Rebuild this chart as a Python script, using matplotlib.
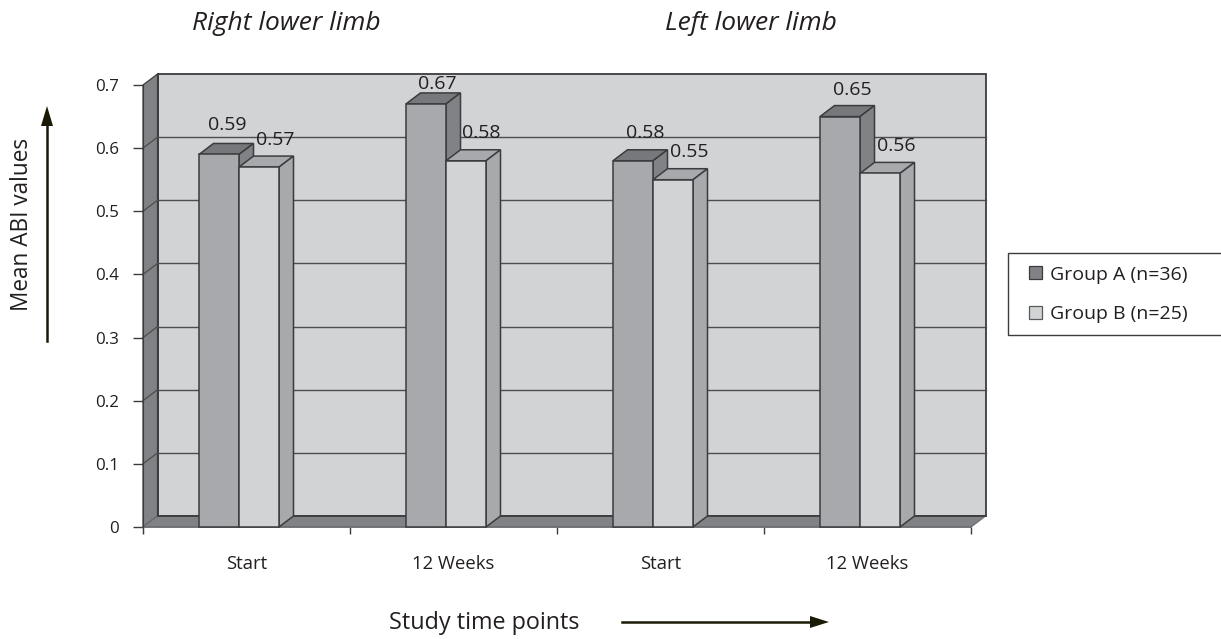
import numpy as np
import matplotlib
matplotlib.use("Agg")
import matplotlib.pyplot as plt
from matplotlib.patches import Polygon, Rectangle
from matplotlib.lines import Line2D
from matplotlib.ticker import FuncFormatter

# ---- data ----
categories = ["Start", "12 Weeks", "Start", "12 Weeks"]
group_a = [0.59, 0.67, 0.58, 0.65]
group_b = [0.57, 0.58, 0.55, 0.56]
y_ticks = [0, 0.1, 0.2, 0.3, 0.4, 0.5, 0.6, 0.7]
series_names = ["Group A (n=36)", "Group B (n=25)"]

# ---- layout ----
W, H = 1221, 639
X0, X1, Y0, Y7 = 143, 971, 527, 85
DX_PX, DY_PX = 14.5, 11
BAR_PX, BAR_START_PX = 40, 56

C_WALL = "#d1d3d4"; C_SIDE = "#808285"; C_EDGE = "#3c3c3e"
C_A = "#a7a9ac"; C_A_TOP = "#77787b"; C_A_SIDE = "#808285"
C_B = "#d1d3d4"; C_B_TOP = "#a7a9ac"; C_B_SIDE = "#a7a9ac"

plt.rcParams["font.family"] = ["Open Sans", "DejaVu Sans"]
FS = 13.3
FS_Y = 12.2
FS_VAL = 14
FS_LEG = 14
TXT = "#231f20"

fig = plt.figure(figsize=(W / 100, H / 100), dpi=100)
ax = fig.add_axes([X0 / W, 1 - Y0 / H, (X1 - X0) / W, (Y0 - Y7) / H])
ax.set_xlim(0, len(categories))
ax.set_ylim(0, 0.7)
ax.patch.set_visible(False)

ux = (X1 - X0) / len(categories)
uy = (Y0 - Y7) / 0.7
dx, dy = DX_PX / ux, DY_PX / uy
bw = BAR_PX / ux
xmax = len(categories)
ymax = 0.7


def poly(pts, fc, z, ec=C_EDGE, lw=1.1):
    ax.add_patch(Polygon(pts, closed=True, facecolor=fc, edgecolor=ec,
                         linewidth=lw, zorder=z, clip_on=False, joinstyle="miter"))


# walls
poly([(dx, dy), (xmax + dx, dy), (xmax + dx, ymax + dy), (dx, ymax + dy)], C_WALL, 1, lw=1.3)
poly([(0, 0), (0, ymax), (dx, ymax + dy), (dx, dy)], C_SIDE, 1.1, lw=0.9)
poly([(0, 0), (xmax, 0), (xmax + dx, dy), (dx, dy)], C_SIDE, 1.1, ec="#6d6e71", lw=0.9)
ax.plot([dx, xmax + dx], [dy, dy], color=C_EDGE, lw=1.3, zorder=1.2, clip_on=False)
ax.plot([dx, dx], [dy, ymax + dy], color=C_EDGE, lw=1.3, zorder=1.2, clip_on=False)

# gridlines on back wall, with their return on the left wall
for t in y_ticks[1:-1]:
    ax.plot([dx, xmax + dx], [t + dy, t + dy], color="#4d4d4f", lw=1.0, zorder=1.3, clip_on=False)
    ax.plot([0, dx], [t, t + dy], color="#4d4d4f", lw=0.9, zorder=1.3, clip_on=False)

# bars
x_idx = np.arange(len(categories))
left_a = x_idx + BAR_START_PX / ux
left_b = left_a + bw


def bars3d(lefts, vals, front, top, side, z):
    for l, v in zip(lefts, vals):
        poly([(l, v), (l + bw, v), (l + bw + dx, v + dy), (l + dx, v + dy)], top, z)
        poly([(l + bw, 0), (l + bw + dx, dy), (l + bw + dx, v + dy), (l + bw, v)], side, z)
    return ax.bar(lefts, vals, width=bw, align="edge", color=front, edgecolor=C_EDGE,
                  linewidth=1.1, zorder=z + 0.1, clip_on=False)


for i in range(len(categories)):
    bars3d([left_a[i]], [group_a[i]], C_A, C_A_TOP, C_A_SIDE, 3 + i)
    bars3d([left_b[i]], [group_b[i]], C_B, C_B_TOP, C_B_SIDE, 3.4 + i)

# value labels
lab_a_dx = [8, 11, 12, 12]
lab_a_dy = [29, 20, 28, 27]
lab_b_dx = [16, 15, 16, 16]
lab_b_dy = [27, 28, 28, 27]
for lefts, vals, ldx, ldy in ((left_a, group_a, lab_a_dx, lab_a_dy),
                              (left_b, group_b, lab_b_dx, lab_b_dy)):
    for l, v, ox, oy in zip(lefts, vals, ldx, ldy):
        ax.annotate(f"{v:.2f}", (l + bw / 2, v), xytext=(ox * .72, oy * .72),
                    textcoords="offset points", ha="center", va="center",
                    fontsize=FS_VAL, color=TXT, zorder=20, annotation_clip=False)

# axes, ticks
for s in ("top", "right"):
    ax.spines[s].set_visible(False)
ax.spines["bottom"].set_visible(False)
ax.spines["left"].set_bounds(-6 / uy, 0.7)
ax.spines["left"].set_position(("data", 0))
ax.spines["left"].set_color(C_EDGE)
ax.spines["left"].set_zorder(2)
ax.plot([0, xmax], [0, 0], color="#6d6e71", lw=1.2, zorder=2, clip_on=False)
ax.set_yticks(y_ticks)
ax.yaxis.set_major_formatter(FuncFormatter(lambda v, p: "0" if v == 0 else f"{v:.1f}"))
ax.tick_params(axis="y", length=7, width=1, color=C_EDGE, pad=10.5, labelsize=FS_Y, labelcolor=TXT)
ax.set_xticks(range(len(categories) + 1))
ax.set_xticklabels([""] * (len(categories) + 1))
ax.tick_params(axis="x", length=5, width=1, color=C_EDGE)
ax.set_xticks(x_idx + 0.5, labels=categories, minor=True)
ax.tick_params(axis="x", which="minor", length=0, pad=20, labelsize=FS, labelcolor=TXT)


def fx(p):
    return p / W


def fy(p):
    return 1 - p / H


fig.text(fx(192), fy(23), "Right lower limb", fontsize=19, style="italic", color=TXT, ha="left", va="center")
fig.text(fx(665), fy(23), "Left lower limb", fontsize=19, style="italic", color=TXT, ha="left", va="center")
fig.text(fx(22), fy(224), "Mean ABI values", fontsize=16.3, color=TXT, rotation=90, ha="center", va="center")
fig.text(fx(484), fy(623), "Study time points", fontsize=16.8, color=TXT, ha="center", va="center")

# arrows
ARW = "#1a1a05"
fig.add_artist(Line2D([fx(47), fx(47)], [fy(341), fy(125)], color=ARW, lw=1.8))
fig.add_artist(Polygon([(fx(41), fy(126)), (fx(53), fy(126)), (fx(47), fy(106))], closed=True,
                       transform=fig.transFigure, facecolor=ARW, edgecolor="none"))
fig.add_artist(Line2D([fx(622), fx(812)], [fy(622), fy(622)], color=ARW, lw=1.8))
fig.add_artist(Polygon([(fx(810), fy(616)), (fx(810), fy(628)), (fx(829), fy(622))], closed=True,
                       transform=fig.transFigure, facecolor=ARW, edgecolor="none"))

# legend
fig.add_artist(Rectangle((fx(1008), fy(335)), (W + 5 - 1008) / W, (335 - 253) / H,
                         transform=fig.transFigure, facecolor="white", edgecolor=C_EDGE, linewidth=1.0))
handles = [Rectangle((0, 0), 1, 1, facecolor=C_SIDE, edgecolor=C_EDGE, linewidth=0.9),
           Rectangle((0, 0), 1, 1, facecolor=C_WALL, edgecolor="#58595b", linewidth=0.9)]
fig.legend(handles, series_names, loc="center left", bbox_to_anchor=(fx(1029), fy(294.5)),
           frameon=False, fontsize=FS_LEG, labelcolor=TXT, handlelength=0.68, handleheight=0.68,
           handletextpad=0.42, labelspacing=1.12, borderpad=0, borderaxespad=0)

fig.savefig("out.png", dpi=100, facecolor="white")
